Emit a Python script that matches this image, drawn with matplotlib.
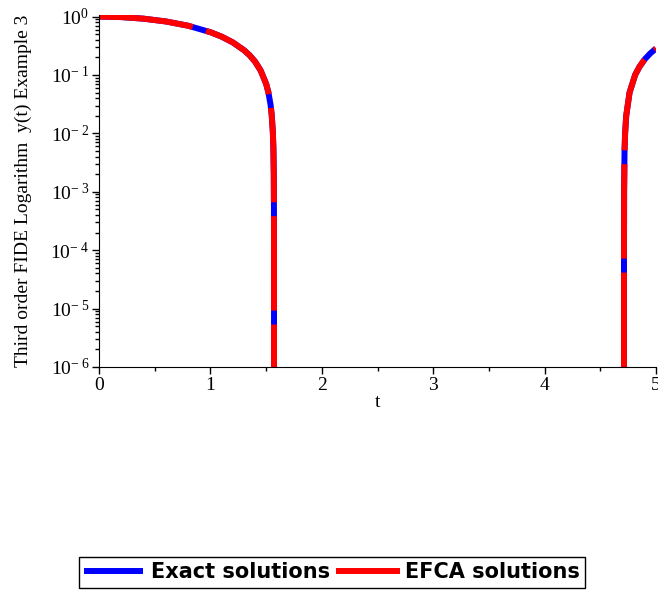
import matplotlib.pyplot as plt
from matplotlib.ticker import FixedLocator, LogLocator, NullFormatter

# values
t_left = [0.0, 0.2, 0.4, 0.6, 0.8, 1.0, 1.1, 1.2, 1.3, 1.35, 1.4, 1.45, 1.5,
          1.52, 1.54, 1.55, 1.56, 1.565, 1.5688, 1.5703, 1.5707, 1.57078, 1.570795]
y_left = [1.0, 0.98, 0.921, 0.825, 0.697, 0.540, 0.454, 0.362, 0.267, 0.219, 0.170,
          0.120, 0.0707, 0.0508, 0.0308, 0.0208, 0.0108, 0.0058, 0.002, 5e-4, 1e-4,
          1e-5, 1e-6]
t_right = [4.71239, 4.7124, 4.71249, 4.7134, 4.7174, 4.7224, 4.7324, 4.7624,
           4.8124, 4.85, 4.9, 4.95, 5.0]
y_right = [1e-6, 1e-5, 1e-4, 1e-3, 5e-3, 0.01, 0.02, 0.05, 0.1, 0.137, 0.187,
           0.236, 0.284]

x_ticks = [0, 1, 2, 3, 4, 5]
y_ticks = [1e-6, 1e-5, 1e-4, 1e-3, 1e-2, 1e-1, 1e0]
y_labels = ['$10^{-\\;6}$', '$10^{-\\;5}$', '$10^{-\\;4}$', '$10^{-\\;3}$',
            '$10^{-\\;2}$', '$10^{-\\;1}$', '$10^{0}$']

plt.rcParams['lines.scale_dashes'] = False
plt.rcParams['mathtext.fontset'] = 'custom'
plt.rcParams['mathtext.rm'] = 'Liberation Serif'
plt.rcParams['mathtext.it'] = 'Liberation Serif'

fig = plt.figure(figsize=(6.58, 5.90), dpi=100)
ax = fig.add_axes([0.1505, 0.378, 0.8465, 0.596])

lw = 4.3
for tt, yy in [(t_left, y_left), (t_right, y_right)]:
    ax.plot(tt, yy, color='blue', lw=lw, solid_capstyle='butt')
    ax.plot(tt, yy, color='red', lw=lw, dashes=(68, 10), dash_capstyle='butt')

ax.set_yscale('log')
ax.set_xlim(0, 5)
ax.set_ylim(1e-6, 1.05)

ax.spines['top'].set_visible(False)
ax.spines['right'].set_visible(False)

ax.set_xticks(x_ticks)
ax.set_xticklabels([str(v) for v in x_ticks], fontsize=14, family='Liberation Serif')
ax.xaxis.set_minor_locator(FixedLocator([0.5, 1.5, 2.5, 3.5, 4.5]))
ax.set_yticks(y_ticks)
ax.set_yticklabels(y_labels, fontsize=14)
ax.yaxis.set_minor_locator(LogLocator(base=10, subs=[2, 3, 4, 5, 6, 7, 8, 9]))
ax.yaxis.set_minor_formatter(NullFormatter())
ax.tick_params(which='major', length=5, width=1, pad=2)
ax.tick_params(which='minor', length=3, width=1)

ax.set_xlabel('t', fontsize=14, family='Liberation Serif', labelpad=0)
ax.set_ylabel('Third order FIDE Logarithm  y(t) Example 3', fontsize=14,
              family='Liberation Serif', labelpad=13)

leg = fig.legend(handles=ax.lines[0:2], labels=['Exact solutions', 'EFCA solutions'],
                 loc='center', bbox_to_anchor=(0.505, 0.030), ncol=2,
                 prop={'family': 'DejaVu Sans', 'weight': 'bold', 'size': 15},
                 fancybox=False, edgecolor='black', handlelength=2.8,
                 handletextpad=0.4, columnspacing=0.4, borderpad=0.25, framealpha=1,
                 borderaxespad=0)
leg.get_frame().set_linewidth(1)
leg.legend_handles[1].set_dashes((None, None))
leg.legend_handles[1].set_linestyle('-')

fig.savefig('out.png', dpi=100)
